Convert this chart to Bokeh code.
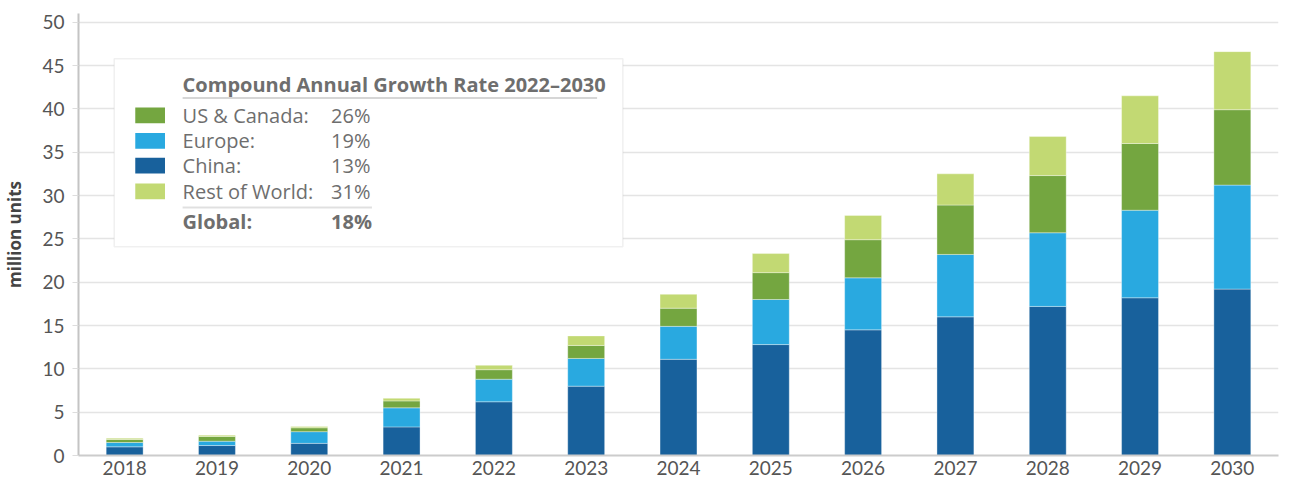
from bokeh.plotting import figure
from bokeh.models import Range1d, BoxAnnotation, Label, FixedTicker
from bokeh.embed import file_html
from bokeh.resources import INLINE

years = ["2018", "2019", "2020", "2021", "2022", "2023", "2024",
         "2025", "2026", "2027", "2028", "2029", "2030"]
china = [1.0, 1.15, 1.4, 3.3, 6.2, 8.0, 11.1, 12.8, 14.5, 16.0, 17.2, 18.2, 19.2]
europe = [0.5, 0.5, 1.35, 2.2, 2.6, 3.2, 3.8, 5.2, 6.0, 7.2, 8.5, 10.1, 12.0]
us_canada = [0.35, 0.55, 0.45, 0.8, 1.1, 1.5, 2.1, 3.1, 4.4, 5.7, 6.6, 7.7, 8.7]
rest_of_world = [0.15, 0.15, 0.15, 0.3, 0.5, 1.1, 1.6, 2.2, 2.8, 3.6, 4.5, 5.5, 6.7]

legend_names = ["US & Canada:", "Europe:", "China:", "Rest of World:"]
legend_rates = ["26%", "19%", "13%", "31%"]
global_rate = "18%"
legend_title = "Compound Annual Growth Rate 2022\u20132030"

C_CHINA = "#18619c"
C_EUROPE = "#29a9e0"
C_US = "#74a640"
C_ROW = "#c2d973"
TXT = "#6e6e6e"
FONT = "Open Sans"
TICK_FONT = "Lato"

data = dict(year=years, china=china, europe=europe, us=us_canada, row=rest_of_world)

p = figure(x_range=years, y_range=Range1d(0, 51), width=1280, height=477,
           output_backend="svg", toolbar_location=None,
           min_border_left=69, min_border_right=2, min_border_top=13, min_border_bottom=0)
p.outline_line_color = None
p.background_fill_color = "white"

p.vbar_stack(["china", "europe", "us", "row"], x="year", width=0.4, source=data,
             color=[C_CHINA, C_EUROPE, C_US, C_ROW],
             line_color="white", line_alpha=0.35, line_width=1)

# axes
p.yaxis.ticker = FixedTicker(ticks=list(range(0, 51, 5)))
p.yaxis.axis_label = "million units"
p.yaxis.axis_label_text_font = FONT
p.yaxis.axis_label_text_font_style = "bold"
p.yaxis.axis_label_text_font_size = "17px"
p.yaxis.axis_label_text_color = "#444444"
p.yaxis.axis_label_standoff = 13
p.yaxis.major_label_text_font = TICK_FONT
p.yaxis.major_label_text_font_size = "19px"
p.yaxis.major_label_text_color = "#555555"
p.yaxis.major_label_standoff = 8
p.yaxis.axis_line_color = "#c4c4c4"
p.yaxis.axis_line_width = 2
p.yaxis.major_tick_line_color = "#dddddd"
p.yaxis.major_tick_out = 6
p.yaxis.major_tick_in = 0
p.yaxis.minor_tick_line_color = None

p.xaxis.major_label_text_font = TICK_FONT
p.xaxis.major_label_text_font_size = "19px"
p.xaxis.major_label_text_color = "#555555"
p.xaxis.major_label_standoff = 5
p.xaxis.axis_line_color = "#cccccc"
p.xaxis.axis_line_width = 2
p.xaxis.major_tick_line_color = None
p.xaxis.major_tick_out = 0
p.xaxis.major_tick_in = 0
p.xaxis.minor_tick_line_color = None

p.xgrid.grid_line_color = None
p.ygrid.grid_line_color = "#e4e4e4"
p.ygrid.grid_line_width = 1.5

# custom legend box (positions in data / synthetic category units)
p.add_layout(BoxAnnotation(left=0.387, right=5.897, bottom=24.09, top=45.78,
                           fill_color="white", fill_alpha=1.0,
                           line_color="#cccccc", line_width=1.5))

p.add_layout(Label(x=1.128, y=42.81, text=legend_title, text_font=FONT,
                   text_font_style="bold", text_font_size="20px", text_color=TXT,
                   text_baseline="middle", text_align="left"))
p.add_layout(BoxAnnotation(left=1.128, right=5.618, bottom=41.24, top=41.24,
                           fill_alpha=0, line_color="#777777", line_width=2))

row_y = [39.24, 36.30, 33.45, 30.48]
row_colors = [C_US, C_EUROPE, C_CHINA, C_ROW]
for name, rate, yy, col in zip(legend_names, legend_rates, row_y, row_colors):
    p.add_layout(BoxAnnotation(left=0.615, right=0.937, bottom=yy - 0.9, top=yy + 0.9,
                               fill_color=col, fill_alpha=1.0, line_color=None))
    p.add_layout(Label(x=1.128, y=yy, text=name, text_font=FONT, text_font_size="20px",
                       text_color=TXT, text_baseline="middle", text_align="left"))
    p.add_layout(Label(x=2.736, y=yy, text=rate, text_font=FONT, text_font_size="20px",
                       text_color=TXT, text_baseline="middle", text_align="left"))

p.add_layout(BoxAnnotation(left=1.128, right=3.179, bottom=28.62, top=28.62,
                           fill_alpha=0, line_color="#999999", line_width=2))
p.add_layout(Label(x=1.128, y=26.97, text="Global:", text_font=FONT, text_font_style="bold",
                   text_font_size="20px", text_color=TXT, text_baseline="middle", text_align="left"))
p.add_layout(Label(x=2.736, y=26.97, text=global_rate, text_font=FONT, text_font_style="bold",
                   text_font_size="20px", text_color=TXT, text_baseline="middle", text_align="left"))

open("out.html", "w").write(file_html(p, INLINE))
